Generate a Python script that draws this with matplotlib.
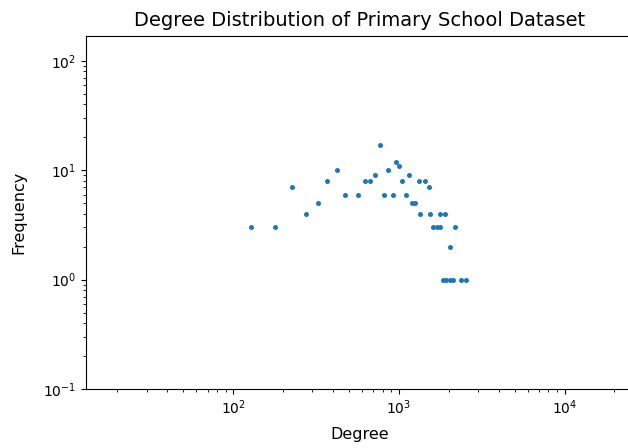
import numpy as np
import matplotlib
matplotlib.use("Agg")
import matplotlib.pyplot as plt

# degree -> number of nodes with that degree
degree = [128, 179, 225, 276, 323, 370, 425, 475, 569, 625,
          670, 714, 766, 817, 855, 918, 957, 995, 1050, 1099,
          1152, 1202, 1259, 1318, 1349, 1446, 1514, 1549, 1616, 1690,
          1762, 1782, 1910, 2027, 2173, 1845, 1932, 2023, 2118, 2377,
          2551]
frequency = [3, 3, 7, 4, 5, 8, 10, 6, 6, 8,
             8, 9, 17, 6, 10, 6, 12, 11, 8, 6,
             9, 5, 5, 8, 4, 8, 7, 4, 3, 3,
             3, 4, 4, 2, 3, 1, 1, 1, 1, 1,
             1]

fig = plt.figure(figsize=(6.28, 4.48), dpi=100)
ax = fig.add_axes([0.137, 0.1317, 0.871, 0.788])

ax.plot(degree, frequency, 'o', color='tab:blue', markersize=3.6, markeredgewidth=0)
ax.set_xscale('log')
ax.set_yscale('log')
ax.set_xlim(12.94, 25900)
ax.set_ylim(0.1, 169)

ax.set_title("Degree Distribution of Primary School Dataset", fontsize=14, pad=7)
ax.set_xlabel("Degree", fontsize=11.5, labelpad=7)
ax.set_ylabel("Frequency", fontsize=11.5, labelpad=12)
ax.tick_params(labelsize=10)

fig.savefig("out.png", dpi=100)
